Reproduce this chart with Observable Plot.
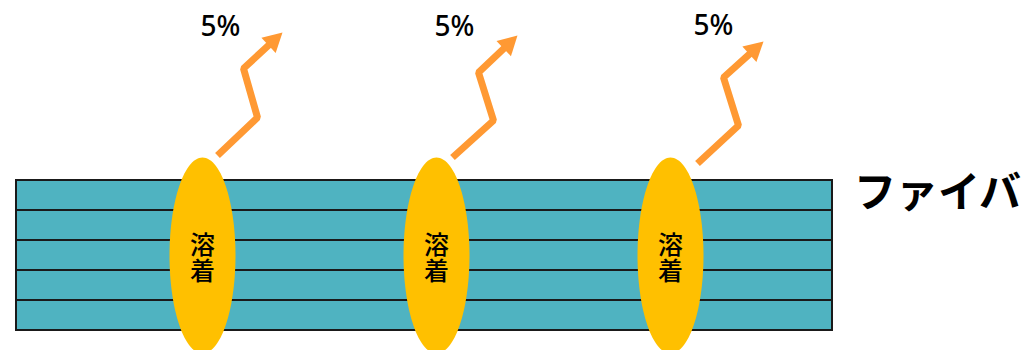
<!DOCTYPE html>
<html><head><meta charset="utf-8">
<script src="https://cdn.jsdelivr.net/npm/d3@7"></script>
<script src="https://cdn.jsdelivr.net/npm/@observablehq/plot@0.6"></script>
<style>body{margin:0;background:#fff;overflow:hidden}</style>
</head><body><div id="chart"></div>
<script>
// Diagram content (diagram units)
const fiberRows = [0, 1, 2, 3, 4];
const fiberSpan = [16, 832];
const fiberTop = 180;
const fiberRowHeight = 30;
const fiberLabel = "ファイバ";
const weldCenters = [202, 436, 670];
const weldLabel = "溶着";
const percentLabels = ["5%", "5%", "5%"];
const percentX = [220, 454, 713];
const percentY = [27, 27, 26];
const arrowPaths = [
  [[217, 155], [257, 117], [243, 68], [282, 32]],
  [[452, 157], [493, 120], [478, 72], [517, 35]],
  [[697, 163], [738, 125], [723, 77], [763, 41]]
];

// Build tables for the marks
const weldCY = 255, weldRX = 33, weldRY = 98;
const ellipsePts = weldCenters.flatMap((cx, i) =>
  d3.range(0, 360, 3).map(a => ({
    weld: i,
    x: cx + weldRX * Math.cos(a * Math.PI / 180),
    y: weldCY + weldRY * Math.sin(a * Math.PI / 180)
  })));

const headLen = 19, headHalf = 10.5;
const shaftPts = [], headPts = [];
arrowPaths.forEach((pts, i) => {
  const T = pts[pts.length - 1], P = pts[pts.length - 2];
  const dx = T[0] - P[0], dy = T[1] - P[1], len = Math.hypot(dx, dy);
  const ux = dx / len, uy = dy / len, nx = -uy, ny = ux;
  const B = [T[0] - headLen * ux, T[1] - headLen * uy];
  pts.slice(0, -1).forEach(p => shaftPts.push({arrow: i, x: p[0], y: p[1]}));
  shaftPts.push({arrow: i, x: B[0] + 2 * ux, y: B[1] + 2 * uy});
  headPts.push({arrow: i, x: T[0], y: T[1]});
  headPts.push({arrow: i, x: B[0] + headHalf * nx, y: B[1] + headHalf * ny});
  headPts.push({arrow: i, x: B[0] - headHalf * nx, y: B[1] - headHalf * ny});
});

const percentData = percentLabels.map((t, i) => ({t, x: percentX[i], y: percentY[i]}));

const chart = Plot.plot({
  width: 1025,
  height: 350,
  margin: 0,
  x: {domain: [0, 1025], range: [0, 1025], axis: null},
  y: {domain: [0, 350], range: [0, 350], axis: null},
  style: {background: "#fff"},
  marks: [
    Plot.rect(fiberRows, {
      x1: fiberSpan[0], x2: fiberSpan[1],
      y1: r => fiberTop + r * fiberRowHeight,
      y2: r => fiberTop + (r + 1) * fiberRowHeight,
      fill: "#4FB3C1", stroke: "#1a1a1a", strokeWidth: 2
    }),
    Plot.line(ellipsePts, {x: "x", y: "y", z: "weld", fill: "#FFC000", stroke: "none", curve: "linear-closed"}),
    Plot.text(weldCenters, {
      x: d => d, y: weldCY - 6, text: () => weldLabel,
      fontSize: 25, fill: "#000",
      fontFamily: "Noto Sans CJK JP", fontWeight: 500
    }),
    Plot.line(shaftPts, {x: "x", y: "y", z: "arrow", stroke: "#FF9933", strokeWidth: 7, strokeLinejoin: "miter", strokeLinecap: "butt"}),
    Plot.line(headPts, {x: "x", y: "y", z: "arrow", fill: "#FF9933", stroke: "none", curve: "linear-closed"}),
    Plot.text(percentData, {
      x: "x", y: "y", text: "t", fontSize: 28, fill: "#000",
      fontFamily: "Noto Sans", fontWeight: 500, lineAnchor: "middle"
    }),
    Plot.text([fiberLabel], {
      x: 937, y: 193, text: d => d, fontSize: 42, fontWeight: "bold",
      fill: "#000", fontFamily: "Noto Sans CJK JP", lineAnchor: "middle"
    })
  ]
});
// set the weld labels in vertical writing mode (stacked characters)
d3.select(chart).selectAll("text")
  .filter(function() { return this.textContent === weldLabel; })
  .attr("dy", null)
  .style("writing-mode", "vertical-rl")
  .style("text-orientation", "upright")
  .style("letter-spacing", "1px");
document.getElementById("chart").appendChild(chart);
</script>
</body></html>
